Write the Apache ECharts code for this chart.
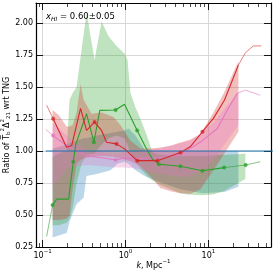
<!DOCTYPE html>
<html><head><meta charset="utf-8">
<script src="https://cdn.jsdelivr.net/npm/echarts@6/dist/echarts.min.js"></script>
<style>html,body{margin:0;padding:0;background:#fff}#c{width:274px;height:272px}</style>
</head><body><div id="c"></div>
<script>
// ---- axis ticks ----
const xMajorTicks = [0.1, 1, 10];
const xMinorTicks = [0.09, 0.2, 0.3, 0.4, 0.5, 0.6, 0.7, 0.8, 0.9, 2, 3, 4, 5, 6, 7, 8, 9, 20, 30, 40, 50];
const yTicks = [0.25, 0.5, 0.75, 1.0, 1.25, 1.5, 1.75, 2.0];
const xRange = [0.0832, 56.9];
const yRange = [0.25, 2.155];

// ---- TNG reference (blue) ----
const blueK = [0.109, 60];
const blueV = [1, 1];
const blueBandK  = [0.132, 0.156, 0.195, 0.2115, 0.257, 0.312, 0.339, 0.448, 0.66, 0.801, 0.972, 1.087, 1.319, 1.742, 2.53, 4.6, 8.47, 15.6, 23.0];
const blueBandLo = [0.325, 0.34, 0.36, 0.45, 0.585, 0.635, 0.805, 0.82, 0.85, 0.90, 0.915, 0.90, 0.85, 0.80, 0.76, 0.70, 0.67, 0.68, 0.72];
const blueBandHi = [1.02, 1.03, 1.05, 1.06, 1.08, 1.10, 1.10, 1.12, 1.14, 1.15, 1.16, 1.175, 1.12, 1.0, 1.0, 1.0, 1.0, 1.0, 1.0];

// ---- green ----
const greenK = [0.1117, 0.132, 0.1475, 0.2057, 0.2344, 0.2518, 0.339, 0.415, 0.490, 0.758, 0.972, 1.383, 1.742, 2.098, 2.53, 4.60, 8.47, 15.5, 28.1, 42.3];
const greenV = [0.333, 0.577, 0.624, 0.624, 0.916, 1.055, 1.29, 1.068, 1.317, 1.32, 1.365, 1.16, 1.03, 0.94, 0.896, 0.88, 0.845, 0.87, 0.89, 0.916];
const greenMarkK = [0.132, 0.2344, 0.415, 0.758, 1.383, 2.53, 4.6, 8.47, 15.5, 28.1];
const greenMarkV = [0.577, 0.916, 1.068, 1.32, 1.16, 0.896, 0.88, 0.845, 0.87, 0.89];
const greenBandK  = [0.132, 0.156, 0.1946, 0.2115, 0.2298, 0.257, 0.295, 0.339, 0.423, 0.514, 0.624, 0.779, 0.972, 1.057, 1.149, 1.319, 1.516, 1.841, 2.115, 2.53, 3.48, 4.6, 5.58, 8.47, 11.5, 15.6, 23.0, 27.9];
const greenBandLo = [0.42, 0.42, 0.44, 0.47, 0.55, 0.75, 0.90, 0.97, 0.98, 1.05, 1.10, 1.12, 1.10, 1.05, 0.98, 0.92, 0.86, 0.80, 0.77, 0.74, 0.70, 0.67, 0.66, 0.655, 0.66, 0.69, 0.75, 0.78];
const greenBandHi = [0.95, 0.98, 1.0, 1.4, 1.45, 1.50, 1.79, 2.08, 1.71, 2.01, 1.895, 1.82, 1.76, 1.71, 1.45, 1.34, 1.25, 1.107, 0.99, 0.97, 0.965, 0.96, 0.96, 0.96, 0.965, 0.97, 0.975, 0.98];

// ---- red ----
const redK = [0.1117, 0.134, 0.1946, 0.224, 0.287, 0.339, 0.423, 0.514, 0.590, 0.779, 0.972, 1.383, 2.43, 4.6, 6.07, 8.47, 11.5, 15.6, 23.0, 27.9, 34.8, 43.4];
const redV = [1.357, 1.252, 1.028, 1.042, 1.333, 1.16, 1.225, 1.16, 1.068, 1.055, 1.016, 0.924, 0.924, 0.987, 1.034, 1.15, 1.254, 1.396, 1.67, 1.766, 1.82, 1.82];
const redMarkK = [0.134, 0.423, 0.779, 1.383, 2.43, 4.6, 8.47];
const redMarkV = [1.252, 1.225, 1.055, 0.924, 0.924, 0.987, 1.15];
const redBandK  = [0.132, 0.156, 0.1946, 0.2115, 0.2298, 0.257, 0.287, 0.312, 0.389, 0.514, 0.717, 0.871, 1.149, 1.516, 2.0, 2.64, 3.48, 4.6, 6.07, 8.0, 11.5, 15.6, 23.0];
const redBandLo = [0.46, 0.46, 0.47, 0.50, 0.70, 0.90, 0.93, 0.94, 0.955, 0.96, 0.955, 0.94, 0.92, 0.88, 0.80, 0.71, 0.685, 0.67, 0.665, 0.70, 0.85, 0.98, 1.15];
const redBandHi = [1.32, 1.28, 1.19, 1.19, 1.2, 1.3, 1.52, 1.40, 1.29, 1.30, 1.265, 1.20, 1.08, 1.02, 1.02, 1.026, 1.04, 1.065, 1.09, 1.13, 1.30, 1.46, 1.70];

// ---- pink ----
const pinkK = [0.1087, 0.134, 0.1946, 0.339, 0.54, 0.758, 0.972, 1.4, 2.53, 4.6, 6.07, 8.47, 12.8, 16.9, 22.3, 27.9, 42.3];
const pinkV = [1.168, 1.12, 1.042, 0.963, 0.945, 0.929, 0.945, 0.94, 0.947, 0.97, 1.02, 1.08, 1.175, 1.32, 1.45, 1.475, 1.435];
const pinkMarkK = [0.134, 0.758];
const pinkMarkV = [1.12, 0.929];
const pinkBandK  = [0.132, 0.156, 0.1946, 0.257, 0.339, 0.514, 0.758, 0.972, 1.4, 2.53, 4.6, 6.07, 8.47, 11.5, 15.6, 23.0];
const pinkBandLo = [0.72, 0.78, 0.86, 0.88, 0.89, 0.88, 0.87, 0.87, 0.86, 0.82, 0.80, 0.80, 0.85, 0.93, 1.05, 1.2];
const pinkBandHi = [1.22, 1.18, 1.12, 1.06, 1.0, 0.99, 0.97, 0.99, 1.0, 1.02, 1.06, 1.08, 1.15, 1.22, 1.33, 1.46];

// ---- helpers ----
const L = Math.log10;
const FONT = 'DejaVu Sans';
const C = {blue:'#1f77b4', green:'#2ca02c', red:'#d62728', pink:'#e377c2'};
function rgba(hex, a){const n=parseInt(hex.slice(1),16);return `rgba(${n>>16},${(n>>8)&255},${n&255},${a})`;}
function pts(ks, vs){return ks.map((k,i)=>[L(k), vs[i]]);}

function band(ks, lo, hi, color, z){
  return {
    type:'custom', silent:true, z:z, xAxisIndex:0, yAxisIndex:0,
    data: ks.map((k,i)=>[L(k), lo[i], hi[i]]),
    encode:{x:0, y:[1,2]},
    renderItem:function(params, api){
      if(params.dataIndex!==0) return;
      const up = ks.map((k,i)=>api.coord([L(k), hi[i]]));
      const dn = ks.map((k,i)=>api.coord([L(k), lo[i]])).reverse();
      return {type:'polygon', shape:{points: up.concat(dn)}, style:{fill: rgba(color,0.3)}};
    }
  };
}
function lines(ks, vs, kLo, kHi, color, z){
  const all = pts(ks, vs);
  const iIn = ks.map((k,i)=>(k>=kLo-1e-9 && k<=kHi+1e-9) ? i : -1).filter(i=>i>=0);
  const a = iIn[0], b = iIn[iIn.length-1];
  const main = all.slice(a, b+1), left = all.slice(0, a+1), right = all.slice(b);
  const mk = (d, w, op)=>({type:'line', data:d, showSymbol:false, symbol:'none', silent:true, z:z,
      lineStyle:{color:color, width:w, opacity:op}, animation:false});
  const out = [mk(main, 1.1, 1)];
  if(left.length>1) out.push(mk(left, 0.7, 0.85));
  if(right.length>1) out.push(mk(right, 0.7, 0.85));
  return out;
}
function marks(ks, vs, color){
  return {type:'scatter', data: pts(ks, vs), symbol:'circle', symbolSize:3.5, silent:true, z:6,
    itemStyle:{color:color, borderColor:color, borderWidth:0.5}};
}

const fmtX = v => { const e = Math.round(v); return '{b|10}{s|' + (e<0 ? '\u2212'+(-e) : e) + '}'; };
const xRich = {b:{fontSize:8, fontFamily:FONT, color:'#000'}, s:{fontSize:5.5, fontFamily:FONT, color:'#000', padding:[0,0,7,0]}};

const xBase = {type:'value', min:L(xRange[0]), max:L(xRange[1]), gridIndex:0};
const yBase = {type:'value', min:yRange[0], max:yRange[1], interval:0.25};

const option = {
  animation:false,
  backgroundColor:'#fff',
  textStyle:{fontFamily:FONT},
  grid:{left:36, right:3, top:3, bottom:25, containLabel:false, outerBoundsMode:'none'},
  title:{
    text:'{i|x}{sb|HI}{t| = 0.60\u00b10.05}', left:41, top:6,
    textStyle:{fontWeight:'normal', rich:{
      i:{fontSize:8.5, fontStyle:'italic', fontWeight:'normal', fontFamily:FONT, color:'#000'},
      sb:{fontSize:6, fontStyle:'italic', fontWeight:'normal', fontFamily:FONT, color:'#000', padding:[5,0,0,0]},
      t:{fontSize:8.5, fontWeight:'normal', fontFamily:FONT, color:'#000'}
    }}
  },
  xAxis:[
    Object.assign({}, xBase, {position:'bottom',
      axisLine:{show:true, onZero:false, lineStyle:{color:'#000', width:1.2}},
      axisTick:{show:true, inside:true, length:7, customValues:xMajorTicks.map(L), lineStyle:{color:'#000', width:0.9}},
      axisLabel:{show:true, customValues:xMajorTicks.map(L), formatter:fmtX, rich:xRich, margin:2},
      splitLine:{show:true, lineStyle:{color:'#d4d4d4', width:0.9}},
      name:'{i|k}{t|, Mpc}{s|\u22121}', nameLocation:'middle', nameGap:12, nameMoveOverlap:false,
      nameTextStyle:{rich:{
        i:{fontSize:8, fontStyle:'italic', fontFamily:FONT, color:'#000'},
        t:{fontSize:8, fontFamily:FONT, color:'#000'},
        s:{fontSize:5.5, fontFamily:FONT, color:'#000', padding:[0,0,7,0]}}}
    }),
    Object.assign({}, xBase, {position:'bottom',
      axisLine:{show:false, onZero:false},
      axisTick:{show:true, inside:true, length:4, customValues:xMinorTicks.map(L), lineStyle:{color:'#000', width:0.7}},
      axisLabel:{show:false}, splitLine:{show:false}}),
    Object.assign({}, xBase, {position:'top',
      axisLine:{show:true, onZero:false, lineStyle:{color:'#000', width:1.2}},
      axisTick:{show:true, inside:true, length:7, customValues:xMajorTicks.map(L), lineStyle:{color:'#000', width:0.9}},
      axisLabel:{show:false}, splitLine:{show:false}}),
    Object.assign({}, xBase, {position:'top',
      axisLine:{show:false, onZero:false},
      axisTick:{show:true, inside:true, length:4, customValues:xMinorTicks.map(L), lineStyle:{color:'#000', width:0.7}},
      axisLabel:{show:false}, splitLine:{show:false}})
  ],
  yAxis:[
    Object.assign({}, yBase, {position:'left',
      axisLine:{show:true, onZero:false, lineStyle:{color:'#000', width:1.2}},
      axisTick:{show:true, inside:true, length:7, lineStyle:{color:'#000', width:0.9}},
      axisLabel:{show:true, margin:3, fontSize:8, color:'#000', fontFamily:FONT,
        formatter:v => yTicks.some(t=>Math.abs(t-v)<1e-6) ? v.toFixed(2) : ''},
      splitLine:{show:true, lineStyle:{color:'#d4d4d4', width:0.9}},
      name:'{t|Ratio of T\u0305}{sb|b}{sp|2}{t|\u0394}{sp|2}{sb|21}{t| wrt TNG}',
      nameLocation:'middle', nameGap:23, nameRotate:90, nameMoveOverlap:false,
      nameTextStyle:{rich:{
        t:{fontSize:8, fontFamily:FONT, color:'#000'},
        sp:{fontSize:5.5, fontFamily:FONT, color:'#000', padding:[0,0,7,0]},
        sb:{fontSize:5.5, fontFamily:FONT, color:'#000', padding:[5,0,0,0]}}}
    }),
    Object.assign({}, yBase, {position:'right',
      axisLine:{show:true, onZero:false, lineStyle:{color:'#000', width:1.2}},
      axisTick:{show:true, inside:true, length:7, lineStyle:{color:'#000', width:0.9}},
      axisLabel:{show:false}, splitLine:{show:false}})
  ],
  series:[
    band(blueBandK, blueBandLo, blueBandHi, C.blue, 1),
    band(greenBandK, greenBandLo, greenBandHi, C.green, 1),
    band(redBandK, redBandLo, redBandHi, C.red, 1),
    band(pinkBandK, pinkBandLo, pinkBandHi, C.pink, 1),
    ...lines(pinkK, pinkV, pinkBandK[0], pinkBandK[pinkBandK.length-1], C.pink, 4),
    ...lines(greenK, greenV, greenBandK[0], greenBandK[greenBandK.length-1], C.green, 4),
    ...lines(redK, redV, redBandK[0], redBandK[redBandK.length-1], C.red, 4),
    {type:'line', data:pts(blueK, blueV), showSymbol:false, symbol:'none', silent:true, z:5,
      lineStyle:{color:C.blue, width:1.1}},
    marks(pinkMarkK, pinkMarkV, C.pink),
    marks(greenMarkK, greenMarkV, C.green),
    marks(redMarkK, redMarkV, C.red)
  ]
};
const chart = echarts.init(document.getElementById('c'), null, {renderer:'canvas'});
chart.setOption(option);
</script>
</body></html>
